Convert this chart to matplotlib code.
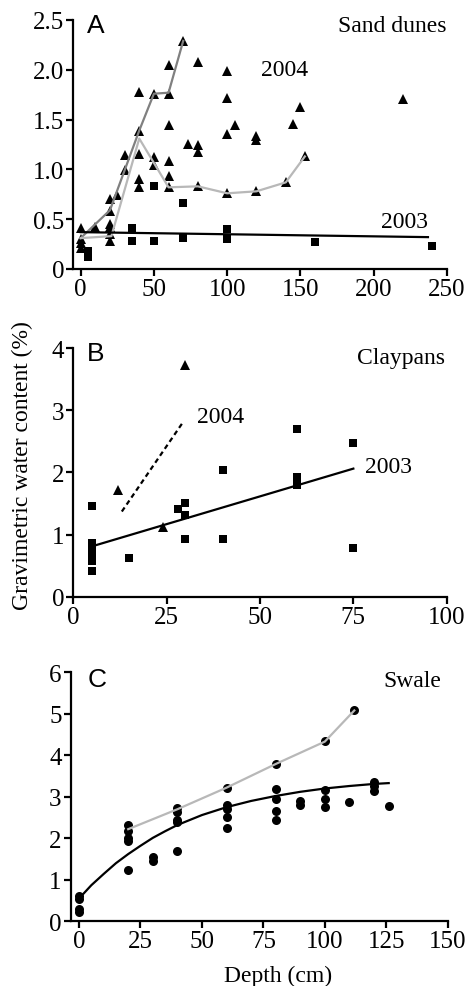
import matplotlib
matplotlib.use("Agg")
import matplotlib.pyplot as plt

# ---------------- Panel A: Sand dunes ----------------
a_tri_x = [0, 0, 0, 0, 10, 20, 20, 20, 20, 20, 20, 25, 30, 30,
           40, 40, 40, 40, 40, 50, 50, 50, 60, 60, 60, 60, 60, 60,
           70, 73, 80, 80, 80, 80, 100, 100, 100, 100, 105, 120, 120, 120,
           140, 145, 150, 153, 220]
a_tri_y = [0.41, 0.30, 0.26, 0.21, 0.42, 0.70, 0.58, 0.45, 0.42, 0.35, 0.28, 0.74, 1.14, 0.99,
           1.78, 1.39, 1.15, 0.90, 0.82, 1.76, 1.12, 1.04, 2.05, 1.76, 1.45, 1.08, 0.93, 0.82,
           2.29, 1.26, 2.08, 1.25, 1.17, 0.83, 1.99, 1.72, 1.36, 0.76, 1.45, 1.34, 1.30, 0.78,
           0.87, 1.46, 1.63, 1.13, 1.71]
a_sq_x = [5, 5, 35, 35, 50, 50, 70, 70, 100, 100, 160, 240]
a_sq_y = [0.18, 0.12, 0.41, 0.28, 0.83, 0.28, 0.66, 0.31, 0.40, 0.30, 0.27, 0.23]
a_dark_x = [0, 20, 40, 50, 60, 70]
a_dark_y = [0.31, 0.59, 1.39, 1.76, 1.77, 2.29]
a_light_x = [0, 21, 40, 60, 80, 100, 120, 140, 153]
a_light_y = [0.31, 0.33, 1.31, 0.82, 0.83, 0.76, 0.78, 0.87, 1.13]
a_fit_x = [0, 237]
a_fit_y = [0.37, 0.32]
a_xticks = [0, 50, 100, 150, 200, 250]
a_yticks = [0, 0.5, 1.0, 1.5, 2.0, 2.5]
a_yticklabels = ["0", "0.5", "1.0", "1.5", "2.0", "2.5"]

# ---------------- Panel B: Claypans ----------------
b_sq_x = [5, 5, 5, 5, 5, 5, 5, 15, 28, 30, 30, 30, 40, 40, 60, 60, 60, 75, 75]
b_sq_y = [1.46, 0.87, 0.80, 0.72, 0.65, 0.57, 0.42, 0.63, 1.41, 1.51, 1.31, 0.93,
          2.04, 0.93, 2.70, 1.93, 1.79, 2.47, 0.79]
b_tri_x = [12, 24, 30]
b_tri_y = [1.72, 1.12, 3.72]
b_fit03_x = [5, 75]
b_fit03_y = [0.81, 2.06]
b_fit04_x = [13, 29.3]
b_fit04_y = [1.37, 2.80]
b_xticks = [0, 25, 50, 75, 100]
b_yticks = [0, 1, 2, 3, 4]

# ---------------- Panel C: Swale ----------------
c_x = [0, 0, 0, 0, 20, 20, 20, 20, 20, 30, 30, 40, 40, 40, 40, 40,
       60, 60, 60, 60, 60, 80, 80, 80, 80, 80, 90, 90, 100, 100, 100, 100,
       110, 112, 120, 120, 120, 126]
c_y = [0.62, 0.54, 0.30, 0.23, 2.31, 2.18, 2.01, 1.93, 1.24, 1.56, 1.46,
       2.73, 2.63, 2.45, 2.39, 1.69, 3.21, 2.80, 2.71, 2.52, 2.25,
       3.79, 3.19, 2.95, 2.66, 2.45, 2.89, 2.80, 4.34, 3.16, 2.95, 2.75,
       2.87, 5.08, 3.35, 3.25, 3.13, 2.77]
c_gray_x = [20, 40, 60, 80, 100, 112]
c_gray_y = [2.22, 2.70, 3.22, 3.79, 4.33, 5.08]
c_fit_x = [0, 5, 10, 15, 20, 25, 30, 35, 40, 50, 60, 70, 80, 90, 100, 110, 120, 126]
c_fit_y = [0.55, 0.87, 1.14, 1.40, 1.62, 1.82, 2.01, 2.17, 2.32, 2.56, 2.75, 2.90,
           3.02, 3.12, 3.20, 3.26, 3.31, 3.33]
c_xticks = [0, 25, 50, 75, 100, 125, 150]
c_yticks = [0, 1, 2, 3, 4, 5, 6]

SERIF = ["Liberation Serif", "DejaVu Serif"]
SANS = ["Liberation Sans", "DejaVu Sans"]
TICK_FS = 18
TEXT_FS = 17
LETTER_FS = 19
DARK = "#808080"
LIGHT = "#b8b8b8"
TRI_MS = 7
SQ_MS = 6
CIRC_MS = 6.5

W, H = 471, 987
fig = plt.figure(figsize=(W / 100, H / 100), dpi=100)


def px_axes(left, right, top, bottom):
    return fig.add_axes([left / W, 1 - bottom / H, (right - left) / W, (bottom - top) / H])


def style(ax, xlim, ylim, xticks, yticks, yticklabels=None):
    ax.set_xlim(*xlim)
    ax.set_ylim(*ylim)
    for s in ("top", "right"):
        ax.spines[s].set_visible(False)
    for s in ("left", "bottom"):
        ax.spines[s].set_linewidth(1.6)
    ax.spines["bottom"].set_bounds(xlim[0], xticks[-1])
    ax.set_xticks(xticks)
    ax.set_yticks(yticks)
    if yticklabels is not None:
        ax.set_yticklabels(yticklabels)
    ax.tick_params(direction="out", length=5, width=1.6, pad=1.5, labelsize=TICK_FS)
    for lab in ax.get_xticklabels() + ax.get_yticklabels():
        lab.set_family(SERIF)


# Panel A
axA = px_axes(73.3, 447, 21, 270)
style(axA, (-5, 250), (0, 2.5), a_xticks, a_yticks, a_yticklabels)
axA.plot(a_tri_x, a_tri_y, "^", color="black", ms=TRI_MS, mew=0, zorder=2, clip_on=False)
axA.plot(a_sq_x, a_sq_y, "s", color="black", ms=SQ_MS, mew=0, zorder=2, clip_on=False)
axA.plot(a_dark_x, a_dark_y, "-", color=DARK, lw=1.6, zorder=3)
axA.plot(a_light_x, a_light_y, "-", color=LIGHT, lw=1.6, zorder=3)
axA.plot(a_fit_x, a_fit_y, "-", color="black", lw=1.6, zorder=3)
axA.text(1.0, 0.955, "Sand dunes", transform=axA.transAxes, ha="right", va="baseline",
         fontsize=TEXT_FS, family=SERIF)
axA.text(123, 1.95, "2004", ha="left", va="baseline", fontsize=TEXT_FS, family=SERIF)
axA.text(205, 0.425, "2003", ha="left", va="baseline", fontsize=TEXT_FS, family=SERIF)
axA.text(0.037, 0.952, "A", transform=axA.transAxes, ha="left", va="baseline",
         fontsize=LETTER_FS, family=SANS)

# Panel B
axB = px_axes(73.3, 446.7, 349, 597.7)
style(axB, (0, 100), (0, 4), b_xticks, b_yticks)
axB.plot(b_sq_x, b_sq_y, "s", color="black", ms=SQ_MS, mew=0, zorder=2, clip_on=False)
axB.plot(b_tri_x, b_tri_y, "^", color="black", ms=TRI_MS, mew=0, zorder=2, clip_on=False)
axB.plot(b_fit03_x, b_fit03_y, "-", color="black", lw=1.6, zorder=3)
axB.plot(b_fit04_x, b_fit04_y, color="black", lw=1.6, ls=(0, (2.2, 1.6)), zorder=3)
axB.text(0.995, 0.94, "Claypans", transform=axB.transAxes, ha="right", va="baseline",
         fontsize=TEXT_FS, family=SERIF)
axB.text(33, 2.815, "2004", ha="left", va="baseline", fontsize=TEXT_FS, family=SERIF)
axB.text(78, 2.0, "2003", ha="left", va="baseline", fontsize=TEXT_FS, family=SERIF)
axB.text(0.037, 0.952, "B", transform=axB.transAxes, ha="left", va="baseline",
         fontsize=LETTER_FS, family=SANS)

# Panel C
axC = px_axes(70.7, 447.7, 673.3, 922.3)
style(axC, (-3.4, 150), (0, 6), c_xticks, c_yticks)
axC.plot(c_x, c_y, "o", color="black", ms=CIRC_MS, mew=0, zorder=2, clip_on=False)
axC.plot(c_gray_x, c_gray_y, "-", color=LIGHT, lw=1.6, zorder=3)
axC.plot(c_fit_x, c_fit_y, "-", color="black", lw=1.6, zorder=3)
axC.text(0.984, 0.944, "Swale", transform=axC.transAxes, ha="right", va="baseline",
         fontsize=TEXT_FS, family=SERIF)
axC.text(0.044, 0.946, "C", transform=axC.transAxes, ha="left", va="baseline",
         fontsize=LETTER_FS, family=SANS)

fig.text(278 / W, 1 - 981.7 / H, "Depth (cm)", ha="center", va="baseline",
         fontsize=TEXT_FS, family=SERIF)
fig.text(22.5 / W, 1 - 466 / H, "Gravimetric water content (%)", ha="center", va="center",
         rotation=90, fontsize=TEXT_FS, family=SERIF)

fig.savefig("out.png", dpi=100)
